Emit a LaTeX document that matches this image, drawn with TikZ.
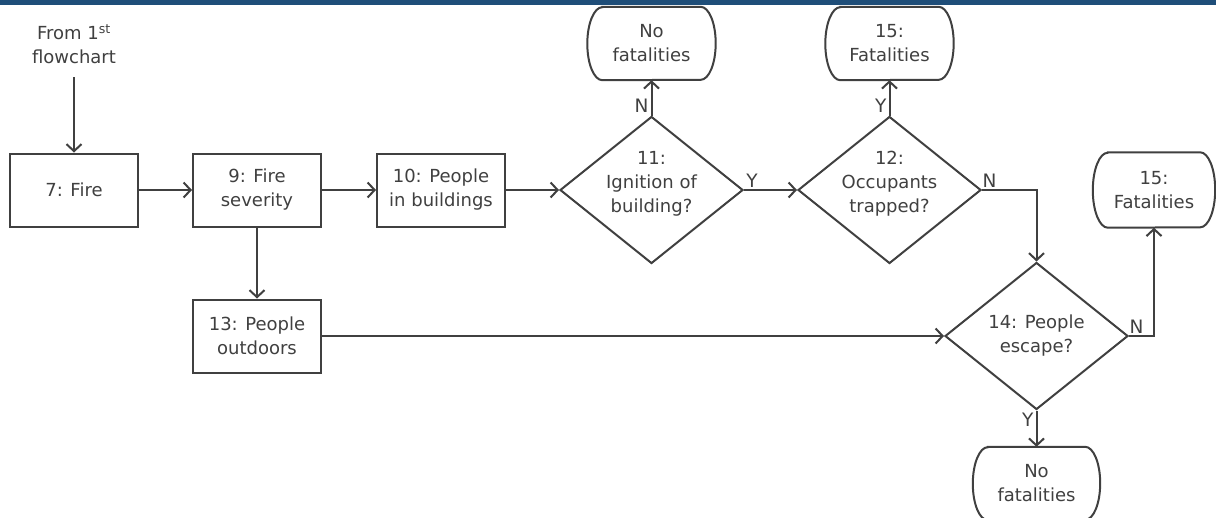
\documentclass[tikz,border=0pt]{standalone}
\usepackage{fontspec}
\setmainfont{DejaVu Sans}
\usetikzlibrary{shapes.geometric,arrows.meta,calc}
\definecolor{ink}{HTML}{404040}
\definecolor{barblue}{HTML}{1F4E79}
\begin{document}
\begin{tikzpicture}[x=1pt,y=-1pt,
  every node/.style={font=\fontsize{18}{24}\selectfont, text=ink, align=center},
  line/.style={draw=ink, line width=2pt},
  arr/.style={line, -{Straight Barb[length=7pt,width=15pt]}},
  proc/.style={draw=ink, line width=2pt, rectangle, minimum width=128pt, minimum height=73pt, inner sep=0pt},
  dec/.style={draw=ink, line width=2pt, diamond, minimum width=183pt, minimum height=147pt, inner sep=0pt},
  term/.style={rectangle, minimum width=128pt, minimum height=73pt, inner sep=0pt},
  lab/.style={inner sep=2pt, font=\fontsize{18.5}{22}\selectfont}
]
\useasboundingbox (0,0) rectangle (1216,517);
\clip (0,0) rectangle (1216,517);
\fill[white] (0,0) rectangle (1216,517);
\fill[barblue] (0,0) rectangle (1216,5);

\node (from) at (74,44) {From 1\textsuperscript{st}\\flowchart};
\node[proc] (b7) at (74,190) {7: Fire};
\node[proc] (b9) at (257,190) {9: Fire\\severity};
\node[proc] (b10) at (441,190) {10: People\\in buildings};
\node[proc] (b13) at (257,336) {13: People\\outdoors};
\node[dec, label={[yshift=6pt]center:{11:\\Ignition of\\building?}}] (d11) at (651.5,190) {};
\node[dec, label={[yshift=6pt]center:{12:\\Occupants\\trapped?}}] (d12) at (889.5,190) {};
\node[dec, label={center:{14: People\\escape?}}] (d14) at (1036.5,336) {};
\node[term] (t11) at (651.5,43.5) {No\\fatalities};
\node[term] (t12) at (889.5,43.5) {15:\\Fatalities};
\node[term, minimum width=122pt, minimum height=75pt] (t14r) at (1154,190) {15:\\Fatalities};
\node[term, minimum width=127pt] (t14b) at (1036.5,483.5) {No\\fatalities};

\foreach \n/\h in {t11/36.5, t12/36.5, t14r/37.5, t14b/36.5} {
  \draw[line] ([xshift=15pt]\n.north west) -- ([xshift=-15pt]\n.north east)
    arc[start angle=90, end angle=-90, x radius=15pt, y radius=\h pt]
    -- ([xshift=15pt]\n.south west)
    arc[start angle=270, end angle=90, x radius=15pt, y radius=\h pt] -- cycle;
}

\draw[arr, shorten <=10pt] (from.south) -- (b7.north);
\draw[arr] (b7) -- (b9);
\draw[arr] (b9) -- (b10);
\draw[arr] (b10) -- (d11.west);
\draw[arr] (d11.east) -- node[lab, above, pos=0.15] {Y} (d12.west);
\draw[arr] (d11.north) -- node[lab, left, pos=0.27] {N} (t11.south);
\draw[arr] (d12.north) -- node[lab, left, pos=0.27] {Y} (t12.south);
\draw[arr] (d12.east) -| node[lab, above, pos=0.07] {N} (d14.north);
\draw[arr] (b9.south) -- (b13.north);
\draw[arr] (b13.east) -- (d14.west);
\draw[arr] (d14.east) -| node[lab, above, pos=0.15] {N} (t14r.south);
\draw[arr] (d14.south) -- node[lab, left, pos=0.26] {Y} (t14b.north);
\end{tikzpicture}
\end{document}
